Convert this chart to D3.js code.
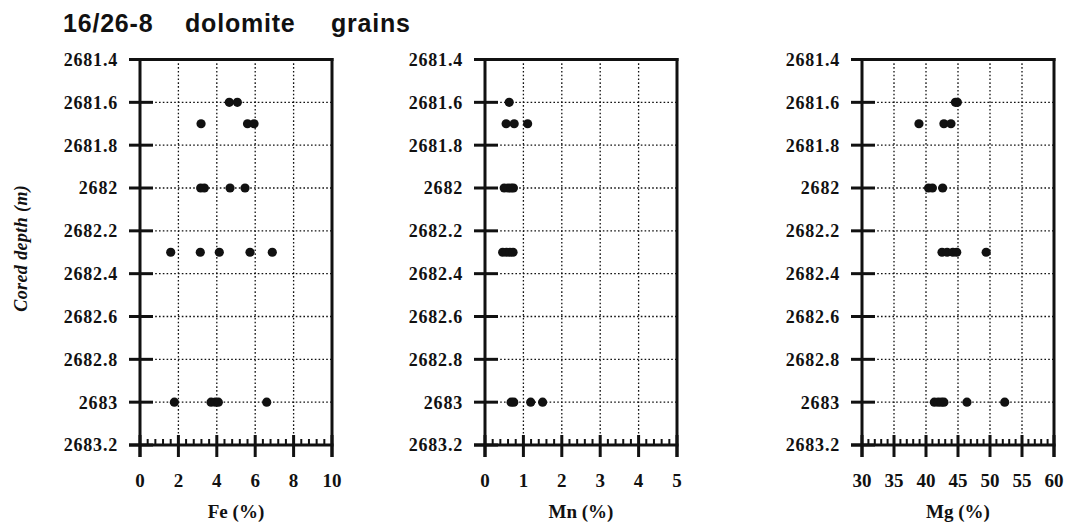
<!DOCTYPE html>
<html>
<head>
<meta charset="utf-8">
<script src="https://cdn.jsdelivr.net/npm/d3@7"></script>
<style>
  body { margin: 0; background: #fff; }
  svg { display: block; }
</style>
</head>
<body>
<div id="chart"></div>
<script>
// Dolomite grain chemistry vs cored depth, well 16/26-8

const depthTicks = [2681.4, 2681.6, 2681.8, 2682, 2682.2, 2682.4, 2682.6, 2682.8, 2683, 2683.2];
const rowDepths = [2681.6, 2681.7, 2682.0, 2682.3, 2683.0];

// one list of measured values per depth row
const feValues = [[4.65, 5.07], [3.18, 5.6, 5.94], [3.16, 3.35, 4.69, 5.47], [1.6, 3.14, 4.13, 5.73, 6.89], [1.79, 3.7, 3.92, 4.08, 6.6]];
const mnValues = [[0.63], [0.55, 0.76, 1.11], [0.5, 0.6, 0.68, 0.74], [0.46, 0.56, 0.65, 0.73], [0.68, 0.75, 1.19, 1.5]];
const mgValues = [[44.6, 44.9], [38.9, 42.8, 43.9], [40.4, 41.0, 42.6], [42.5, 43.3, 44.2, 44.8, 49.4], [41.3, 41.9, 42.4, 42.8, 46.4, 52.3]];

const feTicks = [0, 2, 4, 6, 8, 10];
const mnTicks = [0, 1, 2, 3, 4, 5];
const mgTicks = [30, 35, 40, 45, 50, 55, 60];

const panels = [
  { left: 140, label: "Fe (%)", ticks: feTicks, values: feValues },
  { left: 485, label: "Mn (%)", ticks: mnTicks, values: mnValues },
  { left: 862, label: "Mg (%)", ticks: mgTicks, values: mgValues }
];

const W = 1075, H = 530;
const plotTop = 59.5, plotBottom = 445, plotW = 192;
const serif = "'Liberation Serif', 'DejaVu Serif', serif";

const svg = d3.select("#chart").append("svg")
  .attr("width", W).attr("height", H);

// Title
const title = svg.append("text")
  .attr("y", 32)
  .style("font-family", "'Liberation Sans', Arial, sans-serif")
  .style("font-weight", "bold")
  .style("font-size", "25px")
  .style("letter-spacing", "0.8px")
  .attr("fill", "#111");
[["16/26-8", 63], ["dolomite", 185], ["grains", 331]].forEach(([t, x]) => {
  title.append("tspan").attr("x", x).text(t);
});

// Y axis title
svg.append("text")
  .attr("transform", `translate(27,${(plotTop + plotBottom) / 2 - 4}) rotate(-90)`)
  .attr("text-anchor", "middle")
  .style("font-family", serif)
  .style("font-weight", "bold")
  .style("font-style", "italic")
  .style("font-size", "18px")
  .style("letter-spacing", "0.4px")
  .attr("fill", "#111")
  .text("Cored depth (m)");

const y = d3.scaleLinear()
  .domain([2681.4, 2683.2])
  .range([plotTop, plotBottom]);

panels.forEach(p => {
  const tks = p.ticks;
  const x = d3.scaleLinear()
    .domain([tks[0], tks[tks.length - 1]])
    .range([p.left, p.left + plotW]);

  const g = svg.append("g");

  // Dotted grid
  g.selectAll(".vgrid")
    .data(tks.slice(1, -1))
    .enter().append("line")
    .attr("x1", d => x(d)).attr("x2", d => x(d))
    .attr("y1", plotTop).attr("y2", plotBottom)
    .attr("stroke", "#111").attr("stroke-width", 1.3)
    .attr("stroke-dasharray", "1.6,2.2");

  g.selectAll(".hgrid")
    .data(depthTicks.slice(1, -1))
    .enter().append("line")
    .attr("x1", p.left).attr("x2", p.left + plotW)
    .attr("y1", d => y(d)).attr("y2", d => y(d))
    .attr("stroke", "#111").attr("stroke-width", 1.3)
    .attr("stroke-dasharray", "1.6,2.2");

  // Minor ticks on bottom axis (5 subdivisions)
  const step = (tks[1] - tks[0]) / 5;
  const minor = d3.range(tks[0], tks[tks.length - 1] + step / 2, step)
    .filter(v => !tks.some(t => Math.abs(t - v) < step / 10));
  g.selectAll(".minor")
    .data(minor)
    .enter().append("line")
    .attr("x1", d => x(d)).attr("x2", d => x(d))
    .attr("y1", plotBottom - 6).attr("y2", plotBottom)
    .attr("stroke", "#111").attr("stroke-width", 2);

  // Major x ticks
  g.selectAll(".xtick")
    .data(tks)
    .enter().append("line")
    .attr("x1", d => x(d)).attr("x2", d => x(d))
    .attr("y1", plotBottom - 10).attr("y2", plotBottom + 12)
    .attr("stroke", "#111").attr("stroke-width", 3);

  // Major y ticks
  g.selectAll(".ytick")
    .data(depthTicks)
    .enter().append("line")
    .attr("x1", p.left - 11).attr("x2", p.left + 13)
    .attr("y1", d => y(d)).attr("y2", d => y(d))
    .attr("stroke", "#111").attr("stroke-width", 3);

  // Frame: left, right, top, bottom
  g.append("line")
    .attr("x1", p.left).attr("x2", p.left)
    .attr("y1", plotTop - 1.5).attr("y2", plotBottom + 12)
    .attr("stroke", "#111").attr("stroke-width", 3);
  g.append("line")
    .attr("x1", p.left + plotW).attr("x2", p.left + plotW)
    .attr("y1", plotTop - 1.5).attr("y2", plotBottom + 12)
    .attr("stroke", "#111").attr("stroke-width", 3);
  g.append("line")
    .attr("x1", p.left - 11).attr("x2", p.left + plotW + 1.5)
    .attr("y1", plotTop).attr("y2", plotTop)
    .attr("stroke", "#111").attr("stroke-width", 3);
  g.append("line")
    .attr("x1", p.left - 11).attr("x2", p.left + plotW + 1.5)
    .attr("y1", plotBottom).attr("y2", plotBottom)
    .attr("stroke", "#111").attr("stroke-width", 3);

  // Y tick labels
  g.selectAll(".ylab")
    .data(depthTicks)
    .enter().append("text")
    .attr("x", p.left - 22)
    .attr("y", d => y(d))
    .attr("dy", "0.36em")
    .attr("text-anchor", "end")
    .style("font-family", serif)
    .style("font-weight", "bold")
    .style("font-size", "18px")
    .style("letter-spacing", "0.8px")
    .attr("fill", "#111")
    .text(d => d3.format("")(d));

  // X tick labels
  g.selectAll(".xlab")
    .data(tks)
    .enter().append("text")
    .attr("x", d => x(d))
    .attr("y", 487)
    .attr("text-anchor", "middle")
    .style("font-family", serif)
    .style("font-weight", "bold")
    .style("font-size", "19px")
    .attr("fill", "#111")
    .text(d => d);

  // X axis title
  g.append("text")
    .attr("x", p.left + plotW / 2)
    .attr("y", 518)
    .attr("text-anchor", "middle")
    .style("font-family", serif)
    .style("font-weight", "bold")
    .style("font-size", "19px")
    .attr("fill", "#111")
    .text(p.label);

  // Points
  const pts = [];
  rowDepths.forEach((dep, i) => p.values[i].forEach(v => pts.push({ depth: dep, value: v })));
  g.selectAll(".dot")
    .data(pts)
    .enter().append("circle")
    .attr("cx", d => x(d.value))
    .attr("cy", d => y(d.depth))
    .attr("r", 4.6)
    .attr("fill", "#111");
});
</script>
</body>
</html>
